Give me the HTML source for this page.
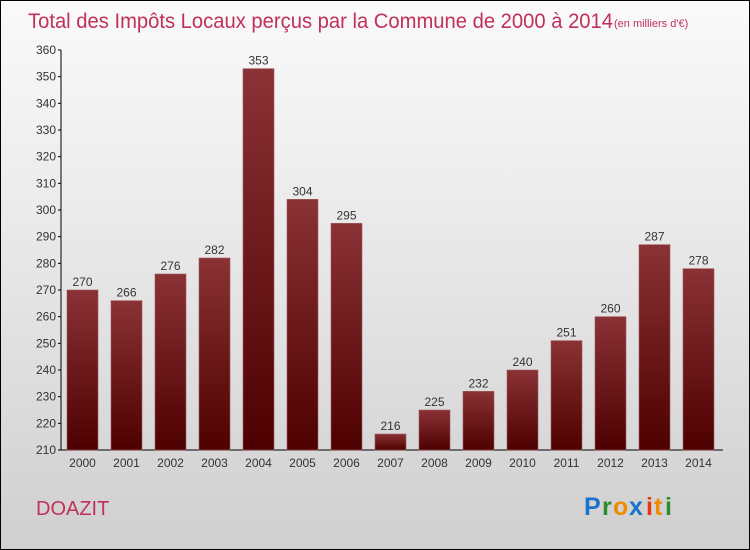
<!DOCTYPE html>
<html><head><meta charset="utf-8"><style>
body{margin:0}
#c{width:748px;height:548px;border:1px solid #000;background:linear-gradient(#fafafa,#e6e6e6 50%,#cfcfcf);position:relative;font-family:"Liberation Sans",sans-serif;overflow:hidden}
</style></head><body>
<div id="c">
<svg id="s" width="748" height="548" xmlns="http://www.w3.org/2000/svg">
<defs><linearGradient id="g" x1="0" y1="0" x2="0" y2="1"><stop offset="0" stop-color="#8a3236"/><stop offset="1" stop-color="#4e0000"/></linearGradient></defs>
<text x="27" y="27" font-size="21" fill="#c2305a" textLength="585" lengthAdjust="spacingAndGlyphs">Total des Impôts Locaux perçus par la Commune de 2000 à 2014</text>
<text x="613" y="26" font-size="11" fill="#c2305a">(en milliers d'€)</text>
<text x="35" y="514" font-size="20" fill="#c2305a">DOAZIT</text>
<g font-size="25" font-weight="bold" font-family="'Liberation Sans',sans-serif">
<text x="583" y="514" fill="#1a73c9">P</text><text x="601" y="514" fill="#2e8b2e">r</text><text x="612" y="514" fill="#f08a00">o</text><text x="628" y="514" fill="#1a73c9">x</text><text x="645" y="514" fill="#e8380d">i</text><text x="653" y="514" fill="#f08a00">t</text><text x="664" y="514" fill="#2e8b2e">i</text>
</g>
<g id="ax"></g><g id="bars"></g>
</svg></div>
<script>
const years=["2000","2001","2002","2003","2004","2005","2006","2007","2008","2009","2010","2011","2012","2013","2014"];
const values=[270,266,276,282,353,304,295,216,225,232,240,251,260,287,278];
const ticks=[210,220,230,240,250,260,270,280,290,300,310,320,330,340,350,360];
const NS="http://www.w3.org/2000/svg";
const y=v=>449-(v-210)*(400/150);
const x=i=>81+i*44;
function mk(t,a,p){const e=document.createElementNS(NS,t);for(const k in a)e.setAttribute(k,a[k]);p.appendChild(e);return e;}
const ax=document.getElementById('ax'),bg=document.getElementById('bars');
const axl=mk('line',{x1:60,y1:49,x2:60,y2:449,stroke:'#000'},ax);


const xl=mk('line',{x1:60,y1:449,x2:722,y2:449,stroke:'#000'},ax);


ticks.forEach(t=>{
 mk('line',{x1:57,x2:60,y1:y(t),y2:y(t),stroke:'#000'},ax);
 const tx=mk('text',{x:55,y:y(t)+4,'text-anchor':'end','font-size':12,fill:'#333'},ax);tx.textContent=t;
 
 
});
years.forEach((yr,i)=>{
 const r=mk('rect',{x:x(i)-15,y:y(values[i]),width:31,height:449-y(values[i]),fill:'url(#g)',stroke:'#a05a5c','stroke-width':0.6},bg);
 
 
 const v=mk('text',{x:x(i)+0.5,y:y(values[i])-4,'text-anchor':'middle','font-size':12,fill:'#333'},bg);v.textContent=values[i];
 
 
 const l=mk('text',{x:x(i)+0.5,y:466,'text-anchor':'middle','font-size':12,fill:'#333'},bg);l.textContent=yr;
 
 
});
</script>
</body></html>
